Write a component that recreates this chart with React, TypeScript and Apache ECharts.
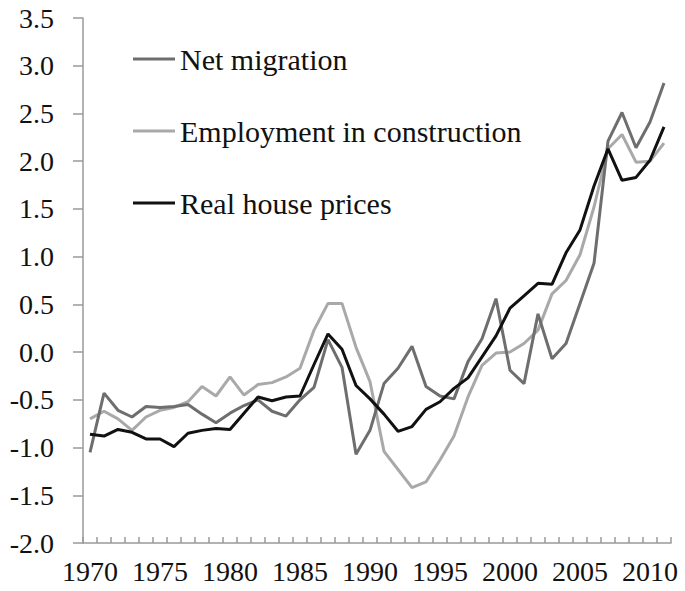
import React, { useEffect, useRef } from "react";
import * as echarts from "echarts";

const years: string[] = [];
for (let y = 1970; y <= 2011; y++) years.push(String(y));

const netMigration = [
  -1.05, -0.43, -0.61, -0.68, -0.57, -0.58, -0.57, -0.55, -0.65, -0.74,
  -0.64, -0.56, -0.5, -0.62, -0.67, -0.5, -0.37, 0.13, -0.16, -1.07,
  -0.82, -0.33, -0.17, 0.06, -0.36, -0.46, -0.49, -0.1, 0.14, 0.56,
  -0.19, -0.33, 0.4, -0.07, 0.09, 0.51, 0.93, 2.21, 2.51, 2.14,
  2.41, 2.82,
];

const employment = [
  -0.7, -0.62, -0.7, -0.82, -0.68, -0.61, -0.58, -0.52, -0.36, -0.46,
  -0.26, -0.45, -0.34, -0.32, -0.26, -0.17, 0.23, 0.51, 0.51, 0.05,
  -0.31, -1.04, -1.23, -1.42, -1.36, -1.13, -0.88, -0.47, -0.14, -0.01,
  0.0, 0.09, 0.23, 0.61, 0.75, 1.02, 1.52, 2.13, 2.28, 1.99,
  2.0, 2.19,
];

const housePrices = [
  -0.86, -0.88, -0.81, -0.84, -0.91, -0.91, -0.99, -0.85, -0.82, -0.8,
  -0.81, -0.64, -0.47, -0.51, -0.47, -0.46, -0.13, 0.19, 0.03, -0.35,
  -0.49, -0.65, -0.83, -0.78, -0.6, -0.52, -0.38, -0.27, -0.05, 0.17,
  0.46, 0.59, 0.72, 0.71, 1.04, 1.28, 1.74, 2.13, 1.8, 1.83,
  2.01, 2.36,
];

const seriesNames = ["Net migration", "Employment in construction", "Real house prices"];

const FONT = "'Liberation Serif', 'Times New Roman', serif";

export default function App() {
  const ref = useRef<HTMLDivElement>(null);
  useEffect(() => {
    if (!ref.current) return;
    const chart = echarts.init(ref.current, undefined, { renderer: "svg" });
    const axisColor = "#9a9a9a";
    chart.setOption({
      animation: false,
      backgroundColor: "#ffffff",
      grid: { left: 83, right: 14, top: 18, bottom: 48, containLabel: false },
      legend: {
        orient: "vertical",
        left: 128,
        top: 38,
        itemGap: 40,
        itemWidth: 42,
        itemHeight: 3,
        icon: "rect",
        selectedMode: false,
        textStyle: { fontFamily: FONT, fontSize: 30, color: "#111", lineHeight: 32 },
        data: seriesNames,
      },
      xAxis: {
        type: "category",
        data: years,
        boundaryGap: true,
        axisLine: { onZero: false, lineStyle: { color: axisColor, width: 1.5 } },
        axisTick: {
          show: true,
          inside: true,
          length: 6,
          interval: 0,
          lineStyle: { color: axisColor, width: 1.5 },
        },
        axisLabel: {
          interval: 4,
          margin: 14,
          fontFamily: FONT,
          fontSize: 28,
          color: "#111",
        },
        splitLine: { show: false },
      },
      yAxis: {
        type: "value",
        min: -2,
        max: 3.5,
        interval: 0.5,
        axisLine: { show: true, lineStyle: { color: axisColor, width: 1.5 } },
        axisTick: { show: true, inside: false, length: 10, lineStyle: { color: axisColor, width: 1.5 } },
        axisLabel: {
          margin: 29,
          fontFamily: FONT,
          fontSize: 28,
          color: "#111",
          formatter: (v: number) => v.toFixed(1),
        },
        splitLine: { show: false },
      },
      series: [
        {
          name: seriesNames[0],
          type: "line",
          data: netMigration,
          symbol: "none",
          lineStyle: { color: "#6e6e6e", width: 3 },
          itemStyle: { color: "#6e6e6e" },
          z: 2,
        },
        {
          name: seriesNames[1],
          type: "line",
          data: employment,
          symbol: "none",
          lineStyle: { color: "#a9a9a9", width: 3 },
          itemStyle: { color: "#a9a9a9" },
          z: 1,
        },
        {
          name: seriesNames[2],
          type: "line",
          data: housePrices,
          symbol: "none",
          lineStyle: { color: "#111111", width: 3 },
          itemStyle: { color: "#111111" },
          z: 3,
        },
      ],
    });
    return () => chart.dispose();
  }, []);
  return <div ref={ref} style={{ width: 685, height: 591, position: "absolute", left: 0, top: 0 }} />;
}
